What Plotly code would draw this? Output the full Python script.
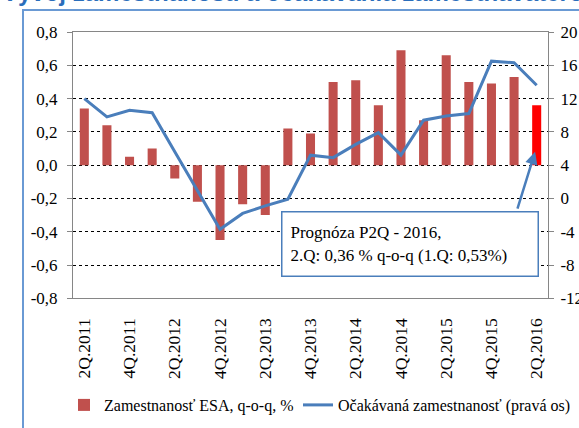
import plotly.graph_objects as go

categories = ["2Q.2011", "3Q.2011", "4Q.2011", "1Q.2012", "2Q.2012", "3Q.2012", "4Q.2012",
              "1Q.2013", "2Q.2013", "3Q.2013", "4Q.2013", "1Q.2014", "2Q.2014", "3Q.2014",
              "4Q.2014", "1Q.2015", "2Q.2015", "3Q.2015", "4Q.2015", "1Q.2016", "2Q.2016"]
employment_esa = [0.34, 0.24, 0.05, 0.10, -0.08, -0.22, -0.45, -0.235, -0.30, 0.22, 0.19,
                  0.50, 0.51, 0.36, 0.69, 0.27, 0.66, 0.50, 0.49, 0.53, 0.36]
expected_employment = [12.0, 9.8, 10.6, 10.3, 5.6, 1.0, -3.7, -1.8, -0.9, -0.1, 5.2,
                       4.9, 6.5, 7.9, 5.2, 9.4, 9.9, 10.2, 16.5, 16.3, 13.6]
left_ticks = [-0.8, -0.6, -0.4, -0.2, 0.0, 0.2, 0.4, 0.6, 0.8]
left_ticktext = ["-0,8", "-0,6", "-0,4", "-0,2", "0,0", "0,2", "0,4", "0,6", "0,8"]
right_ticks = [-12, -8, -4, 0, 4, 8, 12, 16, 20]
right_ticktext = ["-12", "-8", "-4", "0", "4", "8", "12", "16", "20"]
forecast_index = 20

W, H = 579, 428
SERIF = "Liberation Serif"
GRAY = "#868686"
RED = "#c0504d"
BLUE = "#4a7ebb"

x = list(range(len(categories)))
bar_colors = [RED] * len(categories)
bar_colors[forecast_index] = "#ff0000"

xdom = [73 / W, 548 / W]
ydom = [1 - 298.3 / H, 1 - 32 / H]
zero_pos = (ydom[0] + ydom[1]) / 2

fig = go.Figure()
fig.add_trace(go.Bar(x=x, y=employment_esa, marker=dict(color=bar_colors, line=dict(width=0)),
                     width=0.4, name="Zamestnanosť ESA, q-o-q, %", legend="legend"))
fig.add_trace(go.Scatter(x=x, y=expected_employment, yaxis="y2", mode="lines",
                         line=dict(color=BLUE, width=3), legend="legend2",
                         name="Očakávaná zamestnanosť (pravá os)"))

legend_common = dict(orientation="h", y=1 - 405 / H, xanchor="left", yanchor="middle",
                     font=dict(family=SERIF, size=16, color="black"),
                     bgcolor="rgba(0,0,0,0)")

fig.update_layout(
    width=W, height=H,
    margin=dict(l=0, r=0, t=0, b=0, autoexpand=False),
    paper_bgcolor="white", plot_bgcolor="white",
    showlegend=True,
    legend=dict(x=64 / W, **legend_common),
    legend2=dict(x=298 / W, **legend_common),
    xaxis=dict(domain=xdom, range=[-0.5, len(categories) - 0.5], automargin=False,
               tickvals=x[::2], ticktext=categories[::2], tickangle=-90,
               tickfont=dict(family=SERIF, size=17.5, color="black"),
               ticks="", ticklabelstandoff=12,
               showline=True, linecolor=GRAY, linewidth=1, mirror=True,
               showgrid=False, zeroline=False, anchor="y"),
    xaxis2=dict(domain=xdom, range=[-0.5, len(categories) - 0.5], overlaying="x",
                anchor="free", position=zero_pos, automargin=False,
                tickvals=[i - 0.5 for i in range(len(categories) + 1)],
                showticklabels=False, ticks="outside", ticklen=5, tickcolor=GRAY,
                showline=True, linecolor=GRAY, linewidth=1,
                showgrid=False, zeroline=False),
    yaxis=dict(domain=ydom, range=[-0.8, 0.8], tickvals=left_ticks, ticktext=left_ticktext,
               tickfont=dict(family=SERIF, size=17, color="black"), automargin=False,
               ticks="outside", ticklen=5, tickcolor=GRAY, ticklabelstandoff=6,
               showline=True, linecolor=GRAY, linewidth=1, mirror=True,
               showgrid=True, gridcolor="black", griddash="dot", gridwidth=1,
               zeroline=False, anchor="x"),
    yaxis2=dict(range=[-12, 20], tickvals=right_ticks, ticktext=right_ticktext,
                overlaying="y", side="right", anchor="x", automargin=False,
                tickfont=dict(family=SERIF, size=17, color="black"),
                ticks="outside", ticklen=5, tickcolor=GRAY, ticklabelstandoff=3,
                showline=True, linecolor=GRAY, linewidth=1,
                showgrid=False, zeroline=False),
    shapes=[dict(type="rect", xref="paper", yref="paper",
                 x0=23 / W, x1=1.05, y0=-0.05, y1=1 - 10 / H,
                 line=dict(color="#6a9ad4", width=2), fillcolor="rgba(0,0,0,0)", layer="below")],
)

# cropped title at the very top
fig.add_annotation(text="<b>Vývoj zamestnanosti a očakávania zamestnávateľov</b>",
                   xref="paper", yref="paper", x=0 / W, y=1 - 8.5 / H,
                   xanchor="left", yanchor="bottom", showarrow=False,
                   font=dict(family="Liberation Sans, Arial, sans-serif", size=24, color="#2a6ebb"))

# forecast arrow
fig.add_annotation(text="", x=forecast_index - 0.07, y=0.08, xref="x", yref="y",
                   ax=forecast_index - 0.87, ay=-0.27, axref="x", ayref="y",
                   showarrow=True, arrowhead=2, arrowsize=1, arrowwidth=2.5,
                   arrowcolor=BLUE, standoff=0, startstandoff=0)

# forecast text box
fig.add_annotation(text="Prognóza P2Q - 2016,<br>2.Q: 0,36 % q-o-q (1.Q: 0,53%)",
                   xref="paper", yref="paper", x=281 / W, y=1 - 211 / H,
                   xanchor="left", yanchor="top", align="left", valign="middle",
                   width=239, height=47, borderpad=8, borderwidth=1.5,
                   bordercolor=BLUE, bgcolor="white", showarrow=False,
                   font=dict(family=SERIF, size=17, color="black"))

fig.write_html("out.html", config={"displayModeBar": False},
               post_script="document.body.style.margin='0';document.body.style.overflow='hidden';")
